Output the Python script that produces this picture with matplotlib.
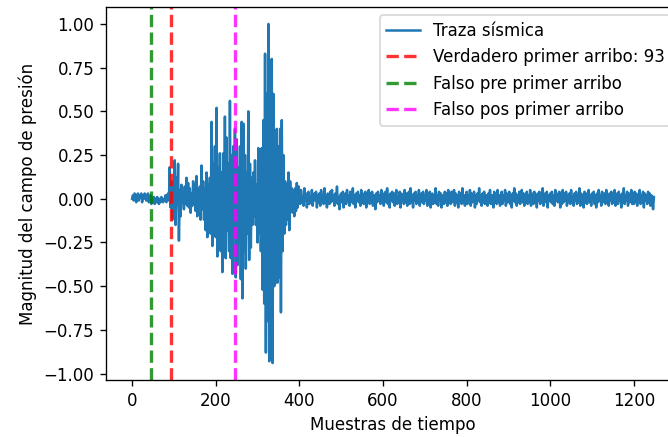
import matplotlib
matplotlib.use("Agg")
import matplotlib.pyplot as plt
import numpy as np

# trace amplitudes, one value every 2 time samples
pre_arrival = [
    0.00, 0.02, -0.01, 0.03, 0.01, -0.02, 0.02, 0.03, -0.01, 0.02, 0.01, 0.03, -0.02, 0.02, 0.00,
    0.03, 0.01, -0.01, 0.02, 0.03, -0.02, 0.01, 0.02, -0.03, 0.00, -0.02, 0.01, -0.03, 0.00, -0.02,
    0.01, -0.01, -0.03, 0.00, -0.02, 0.01, -0.01, -0.02, 0.00, -0.01, 0.02, -0.02, 0.01, 0.03, -0.01,
]
event = [
    0.18, -0.05, 0.10, -0.12, 0.06, -0.08, 0.22, -0.15, 0.12, -0.03,
    0.20, -0.24, 0.05, -0.10, 0.08, -0.02, 0.04, -0.06, 0.07, -0.03,
    0.12, -0.04, 0.09, -0.05, 0.06, -0.08, 0.03, -0.04, 0.10, -0.02,
    0.08, -0.07, 0.13, -0.10, 0.05, -0.04, 0.07, -0.12, 0.19, -0.06,
    0.10, -0.12, 0.06, -0.18, 0.15, -0.22, 0.08, -0.10, 0.12, -0.20,
    0.44, -0.27, 0.20, -0.15, 0.30, -0.22, 0.52, -0.33, 0.18, -0.25,
    0.26, -0.30, 0.15, -0.42, 0.26, -0.20, 0.47, -0.34, 0.35, -0.18,
    0.20, -0.30, 0.56, -0.34, 0.25, -0.43, 0.30, -0.20, 0.40, -0.45,
    0.34, -0.38, 0.18, -0.25, 0.30, -0.46, 0.44, -0.57, 0.43, -0.30,
    0.25, -0.40, 0.15, -0.20, 0.50, -0.35, 0.20, -0.28, 0.12, -0.15,
    0.15, -0.10, 0.22, -0.15, 0.08, -0.25, 0.29, -0.20, 0.26, -0.30,
    0.29, -0.52, 0.45, -0.60, 0.83, -0.88, 0.60, -0.70, 1.00, -0.93,
    0.70, -0.90, 0.80, -0.94, 0.60, -0.50, 0.35, -0.48, 0.40, -0.48,
    0.30, -0.45, 0.40, -0.65, 0.45, -0.30, 0.25, -0.20, 0.10, -0.15,
    0.08, -0.12, 0.15, -0.18, 0.10, -0.05, 0.06, -0.08, 0.05, -0.10,
    0.06, -0.07, 0.09, -0.05, 0.07,
]
coda = [
    0.04, -0.03, 0.05, -0.02, 0.01, -0.04, 0.06, -0.01, 0.03, -0.05, 0.02, 0.04, -0.03, 0.01, -0.02, 0.05, -0.04, 0.02, 0.03, -0.01, 0.04, -0.05, 0.02, -0.02, 0.03,
    -0.04, 0.05, -0.01, 0.02, -0.03, 0.06, -0.02, 0.01, -0.05, 0.03, 0.00, -0.03, 0.04, -0.02, 0.05, -0.01, 0.02, -0.04, 0.03, -0.02, 0.07, -0.03, 0.01, -0.06, 0.02,
    0.03, -0.02, 0.04, -0.05, 0.01, 0.03, -0.03, 0.05, -0.01, 0.02, -0.04, 0.04, -0.02, 0.01, 0.06, -0.03, 0.02, -0.05, 0.03, -0.01, 0.04, -0.02, 0.02, -0.04, 0.05,
    -0.02, 0.03, -0.03, 0.01, 0.04, -0.05, 0.02, -0.01, 0.05, -0.03, 0.03, -0.02, 0.04, -0.04, 0.01, 0.02, -0.06, 0.03, -0.02, 0.04, -0.01, 0.02, -0.03, 0.05, -0.02,
    0.03, -0.04, 0.01, 0.04, -0.02, 0.06, -0.03, 0.02, -0.05, 0.03, -0.01, 0.04, -0.02, 0.03, -0.04, 0.02, 0.05, -0.03, 0.01, -0.02, 0.04, -0.05, 0.03, -0.01, 0.02,
    -0.03, 0.05, -0.02, 0.03, -0.04, 0.01, 0.04, -0.03, 0.06, -0.02, 0.02, -0.05, 0.03, -0.01, 0.04, -0.03, 0.02, -0.02, 0.05, -0.04, 0.01, 0.03, -0.02, 0.04, -0.03,
    0.02, -0.01, 0.05, -0.04, 0.03, -0.02, 0.04, -0.05, 0.01, 0.03, -0.03, 0.02, -0.02, 0.06, -0.03, 0.02, -0.04, 0.04, -0.01, 0.03, -0.05, 0.02, 0.01, -0.03, 0.04,
    -0.02, 0.03, -0.04, 0.05, -0.01, 0.02, -0.03, 0.04, -0.02, 0.01, 0.05, -0.04, 0.03, -0.02, 0.02, -0.05, 0.04, -0.01, 0.03, -0.03, 0.06, -0.02, 0.02, -0.04, 0.01,
    0.04, -0.03, 0.02, -0.01, 0.05, -0.04, 0.03, -0.02, 0.01, 0.04, -0.05, 0.02, -0.03, 0.03, -0.01, 0.06, -0.02, 0.02, -0.04, 0.03, -0.02, 0.04, -0.03, 0.01, 0.02,
    -0.04, 0.03, -0.02, 0.05, -0.03, 0.01, 0.02, -0.05, 0.04, -0.01, 0.03, -0.03, 0.05, -0.02, 0.02, -0.04, 0.01, 0.04, -0.03, 0.02, -0.01, 0.05, -0.04, 0.03, -0.02,
    0.01, 0.04, -0.03, 0.02, -0.05, 0.03, -0.01, 0.06, -0.02, 0.03, -0.04, 0.02, -0.02, 0.04, -0.03, 0.01, 0.05, -0.02, 0.03, -0.04, 0.02, -0.01, 0.04, -0.03, 0.02,
    -0.02, 0.05, -0.04, 0.01, 0.03, -0.03, 0.04, -0.02, 0.02, -0.05, 0.03, -0.01, 0.04, -0.03, 0.02, -0.02, 0.06, -0.04, 0.01, 0.03, -0.02, 0.04, -0.05, 0.02, -0.01,
    0.03, -0.02, 0.04, -0.03, 0.02, -0.04, 0.05, -0.01, 0.03, -0.02, 0.01, 0.04, -0.05, 0.02, -0.03, 0.05, -0.02, 0.03, -0.01, 0.04, -0.04, 0.02, -0.02, 0.03, -0.03,
    0.05, -0.02, 0.01, -0.04, 0.03, -0.01, 0.04, -0.03, 0.02, -0.02, 0.06, -0.04, 0.03, -0.01, 0.02, -0.05, 0.04, -0.02, 0.03, -0.03, 0.01, 0.05, -0.02, 0.02, -0.04,
    0.03, -0.01, 0.04, -0.03, 0.02, -0.05, 0.03, -0.02, 0.05, -0.01, 0.02, -0.04, 0.04, -0.02, 0.01, 0.03, -0.03, 0.05, -0.02, 0.02, -0.04, 0.03, -0.01, 0.04, -0.03,
    0.02, -0.02, 0.05, -0.04, 0.01, 0.03, -0.03, 0.04, -0.01, 0.02, -0.05, 0.03, -0.02, 0.06, -0.03, 0.02, -0.01, 0.04, -0.04, 0.03, -0.02, 0.01, 0.05, -0.03, 0.02,
    -0.03, 0.04, -0.02, 0.03, -0.04, 0.02, -0.01, 0.05, -0.03, 0.02, -0.02, 0.04, -0.05, 0.03, -0.01, 0.02, -0.03, 0.04, -0.02, 0.03, -0.04, 0.02, 0.01, -0.06, 0.01,
]
sample_step = 2

true_pick = 93
false_pre_pick = 45
false_post_pick = 247

trace = np.array(pre_arrival + event + coda)
samples = np.arange(len(trace)) * sample_step

dpi = 120
fig = plt.figure(figsize=(668 / dpi, 437 / dpi), dpi=dpi)
ax = fig.add_axes([106 / 668, 57 / 437, 574 / 668, 373 / 437])

ax.plot(samples, trace, label="Traza sísmica")
ax.axvline(true_pick, color="red", linestyle="--", linewidth=2, alpha=0.8,
           label=f"Verdadero primer arribo: {true_pick}")
ax.axvline(false_pre_pick, color="green", linestyle="--", linewidth=2, alpha=0.8,
           label="Falso pre primer arribo")
ax.axvline(false_post_pick, color="magenta", linestyle="--", linewidth=2, alpha=0.8,
           label="Falso pos primer arribo")

ax.set_xlabel("Muestras de tiempo")
ax.set_ylabel("Magnitud del campo de presión")
ax.legend(loc="upper right")

fig.savefig("out.png", dpi=dpi)
